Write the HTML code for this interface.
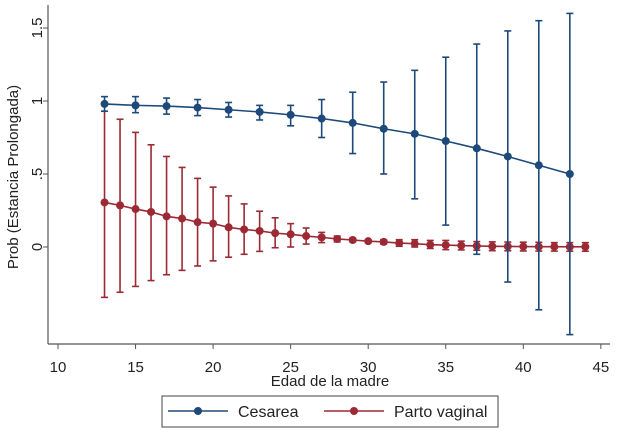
<!DOCTYPE html>
<html><head><meta charset="utf-8"><style>
body{margin:0;background:#fff;}
svg text{font-family:"Liberation Sans",Arial,sans-serif;fill:#222;}
</style></head><body>
<svg id="chart" width="624" height="435" xmlns="http://www.w3.org/2000/svg">
<rect width="624" height="435" fill="#fff"/>
<g id="axes"></g><g id="plot"></g>
<text x="330" y="386" text-anchor="middle" font-size="15">Edad de la madre</text>
<text transform="translate(18,177) rotate(-90)" text-anchor="middle" font-size="15">Prob (Estancia Prolongada)</text>
<g>
<rect x="162" y="396" width="336" height="31" fill="#fff" stroke="#444" stroke-width="1"/>
<line x1="168" y1="411" x2="228" y2="411" stroke="#1d4a7a" stroke-width="1.6"/>
<circle cx="198" cy="411" r="4" fill="#1d4a7a"/>
<text x="238" y="417" font-size="16">Cesarea</text>
<line x1="324" y1="411" x2="384" y2="411" stroke="#9b2a35" stroke-width="1.6"/>
<circle cx="354" cy="411" r="4" fill="#9b2a35"/>
<text x="394" y="417" font-size="16">Parto vaginal</text>
</g>
</svg>
<script>
const cesAge=[13,15,17,19,21,23,25,27,29,31,33,35,37,39,41,43];
const cesVal=[0.98,0.97,0.965,0.955,0.94,0.925,0.905,0.88,0.85,0.81,0.775,0.726,0.676,0.62,0.56,0.50];
const cesHi=[1.03,1.03,1.02,1.01,0.99,0.97,0.97,1.01,1.06,1.13,1.21,1.30,1.39,1.48,1.55,1.60];
const cesLo=[0.93,0.92,0.91,0.90,0.89,0.87,0.83,0.75,0.64,0.50,0.33,0.15,-0.05,-0.24,-0.43,-0.60];
const vagAge=[13,14,15,16,17,18,19,20,21,22,23,24,25,26,27,28,29,30,31,32,33,34,35,36,37,38,39,40,41,42,43,44];
const vagVal=[0.305,0.285,0.26,0.24,0.21,0.195,0.17,0.16,0.135,0.12,0.11,0.095,0.087,0.075,0.066,0.055,0.048,0.04,0.035,0.027,0.023,0.016,0.013,0.01,0.007,0.005,0.004,0.003,0.002,0.002,0.001,0.001];
const vagHi=[0.93,0.875,0.785,0.70,0.62,0.545,0.47,0.41,0.35,0.295,0.245,0.20,0.16,0.13,0.10,0.075,0.06,0.05,0.05,0.05,0.05,0.045,0.045,0.04,0.037,0.035,0.034,0.033,0.032,0.03,0.03,0.03];
const vagLo=[-0.345,-0.31,-0.27,-0.23,-0.19,-0.16,-0.13,-0.095,-0.07,-0.05,-0.03,-0.005,0.0,0.02,0.03,0.035,0.036,0.03,0.02,0.005,0.0,-0.01,-0.018,-0.02,-0.022,-0.025,-0.026,-0.027,-0.028,-0.028,-0.029,-0.029];
const xTicks=[10,15,20,25,30,35,40,45];
const yTicks=[0,0.5,1,1.5];
const yTickLabels=["0",".5","1","1.5"];
const NS="http://www.w3.org/2000/svg";
const X=v=>58+(v-10)*15.51;
const Y=v=>247-v*146;
function mk(tag,at,parent){const e=document.createElementNS(NS,tag);for(const k in at)e.setAttribute(k,at[k]);parent.appendChild(e);return e;}
const axes=document.getElementById('axes'),plot=document.getElementById('plot');
let l=mk('line',{x1:48,y1:5,x2:48,y2:344,stroke:'#555','stroke-width':1.2},axes);


l=mk('line',{x1:48,y1:344,x2:610,y2:344,stroke:'#555','stroke-width':1.2},axes);


xTicks.forEach(t=>{
 mk('line',{x1:X(t),y1:344,x2:X(t),y2:349,stroke:'#555'},axes);
 const tx=mk('text',{x:X(t),y:372,'text-anchor':'middle','font-size':15},axes);
 tx.textContent=t;
 
 
});
yTicks.forEach((t,i)=>{
 mk('line',{x1:43,y1:Y(t),x2:48,y2:Y(t),stroke:'#555'},axes);
 const tx=mk('text',{transform:`translate(42,${Y(t)}) rotate(-90)`,'text-anchor':'middle','font-size':15},axes);
 tx.textContent=yTickLabels[i];
 
 
});
function series(ages,vals,his,los,col,name){
 const g=mk('g',{},plot);
 
 
 ages.forEach((a,i)=>{
  const x=X(a);
  mk('line',{x1:x,y1:Y(his[i]),x2:x,y2:Y(los[i]),stroke:col,'stroke-width':1.6},g);
  mk('line',{x1:x-3.5,y1:Y(his[i]),x2:x+3.5,y2:Y(his[i]),stroke:col,'stroke-width':1.6},g);
  mk('line',{x1:x-3.5,y1:Y(los[i]),x2:x+3.5,y2:Y(los[i]),stroke:col,'stroke-width':1.6},g);
 });
 const p=mk('polyline',{points:ages.map((a,i)=>X(a)+','+Y(vals[i])).join(' '),fill:'none',stroke:col,'stroke-width':1.6},g);
 
 
 ages.forEach((a,i)=>{
  const c=mk('circle',{cx:X(a),cy:Y(vals[i]),r:4,fill:col},g);
  
  
 });
}
series(vagAge,vagVal,vagHi,vagLo,'#9b2a35','parto-vaginal');
series(cesAge,cesVal,cesHi,cesLo,'#1d4a7a','cesarea');
</script>
</body></html>
